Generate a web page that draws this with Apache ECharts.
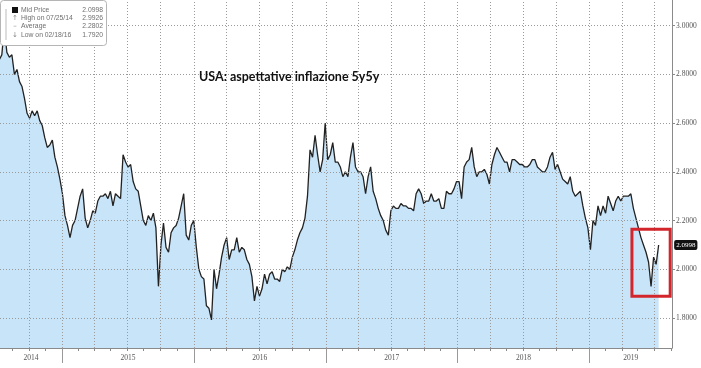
<!DOCTYPE html>
<html><head><meta charset="utf-8">
<script src="https://cdn.jsdelivr.net/npm/echarts@6/dist/echarts.min.js"></script>
<style>html,body{margin:0;padding:0;background:#fff}#c{width:701px;height:368px}</style>
</head><body><div id="c"></div>
<script>
// ---- data (weekly closes) ----
const startDate = [2014, 6, 11];          // first weekly observation (Fri 11 Jul 2014)
const values = [
 2.86,2.88,2.9926,2.89,2.87,2.88,2.80,2.82,2.77,2.75,
 2.70,2.64,2.62,2.65,2.63,2.65,2.61,2.59,2.54,2.50,
 2.51,2.53,2.46,2.42,2.37,2.31,2.22,2.18,2.13,2.18,
 2.20,2.25,2.30,2.33,2.21,2.17,2.20,2.24,2.23,2.28,
 2.30,2.30,2.31,2.29,2.32,2.26,2.31,2.30,2.29,2.47,
 2.44,2.42,2.43,2.36,2.33,2.32,2.26,2.20,2.18,2.22,
 2.20,2.23,2.17,1.93,2.10,2.19,2.09,2.07,2.15,2.17,
 2.18,2.21,2.26,2.31,2.14,2.12,2.18,2.20,2.09,2.00,
 1.97,1.96,1.85,1.84,1.792,2.00,1.92,1.98,2.05,2.10,
 2.13,2.04,2.08,2.08,2.13,2.07,2.09,2.08,2.04,2.02,
 1.97,1.87,1.93,1.89,1.92,1.98,1.94,1.98,1.99,1.96,
 1.96,1.95,2.00,1.99,2.01,2.00,2.05,2.08,2.12,2.15,
 2.17,2.21,2.30,2.49,2.46,2.55,2.47,2.40,2.45,2.60,
 2.45,2.47,2.52,2.44,2.44,2.42,2.38,2.40,2.38,2.46,
 2.52,2.42,2.40,2.40,2.38,2.31,2.38,2.42,2.32,2.29,
 2.25,2.22,2.20,2.16,2.14,2.24,2.26,2.25,2.25,2.27,
 2.26,2.26,2.25,2.25,2.24,2.31,2.33,2.31,2.27,2.28,
 2.28,2.31,2.28,2.28,2.29,2.25,2.25,2.32,2.31,2.31,
 2.33,2.36,2.36,2.29,2.42,2.44,2.45,2.50,2.42,2.38,
 2.40,2.40,2.41,2.39,2.35,2.43,2.47,2.50,2.48,2.46,
 2.44,2.44,2.40,2.45,2.45,2.44,2.43,2.43,2.42,2.42,
 2.43,2.45,2.45,2.42,2.41,2.40,2.40,2.42,2.46,2.48,
 2.41,2.43,2.40,2.37,2.36,2.35,2.38,2.32,2.30,2.31,
 2.32,2.26,2.21,2.17,2.08,2.20,2.18,2.26,2.22,2.26,
 2.23,2.30,2.27,2.24,2.28,2.30,2.28,2.30,2.30,2.30,
 2.31,2.25,2.21,2.17,2.13,2.10,2.07,2.03,1.93,2.05,
 2.02,2.0998
];
const yTicks = [1.8, 2.0, 2.2, 2.4, 2.6, 2.8, 3.0];
const years = [2014, 2015, 2016, 2017, 2018, 2019];
const legendNames = ['Mid Price', 'High on 07/25/14', 'Average', 'Low on 02/18/16'];
const legendValues = ['2.0998', '2.9926', '2.2802', '1.7920'];
const legendIcons = ['', '\u2191', '\u2013', '\u2193'];
const titleText = 'USA: aspettative inflazione 5y5y';
const axisStart = [2014, 6, 13], axisEnd = [2019, 7, 18];
const yMin = 1.677, yMax = 3.105;
const boxFrom = [2019, 3, 29], boxTo = [2019, 7, 13], boxHigh = 2.164, boxLow = 1.889;

// ---- build ----
const ts = a => new Date(a[0], a[1], a[2]).getTime();
const dates = values.map((v, i) => new Date(startDate[0], startDate[1], startDate[2] + 7 * i).getTime());
const seriesData = values.map((v, i) => [dates[i], v]);
const xMin = ts(axisStart), xMax = ts(axisEnd);
const quarterLines = [], minorTicks = [], yearStarts = [], yearMids = [];
years.forEach(y => {
  [0, 3, 6, 9].forEach(m => {
    const t = new Date(y, m, 1).getTime();
    if (t > xMin && t < xMax) { quarterLines.push(t); minorTicks.push(t); }
    const t2 = new Date(y, m + 1, 15).getTime();
    if (t2 > xMin && t2 < xMax) minorTicks.push(t2);
  });
  const s = new Date(y, 0, 1).getTime(), e = new Date(y + 1, 0, 1).getTime();
  if (s > xMin) yearStarts.push(s);
  yearMids.push((Math.max(s, xMin) + Math.min(e, xMax)) / 2);
});
const last = seriesData[seriesData.length - 1];

const Z = 100;
const legendChildren = [
  {type: 'rect', z: Z, shape: {x: 0.5, y: 0.5, width: 106, height: 45, r: 3},
   style: {fill: '#fff', stroke: '#b5b5b5', lineWidth: 1}},
  {type: 'line', z: Z + 1, shape: {x1: 6, y1: 9, x2: 6, y2: 40}, style: {stroke: '#bbb', lineWidth: 1}},
  {type: 'rect', z: Z + 1, shape: {x: 12, y: 7, width: 6, height: 6}, style: {fill: '#111'}}
];
legendNames.forEach((n, i) => {
  const yy = 10 + i * 8.3;
  legendChildren.push({type: 'text', z: Z + 1, style: {text: n, x: 21, y: yy, fill: '#6f6f6f', fontSize: 6.8,
    fontFamily: 'Liberation Sans', textVerticalAlign: 'middle', verticalAlign: 'middle'}});
  legendChildren.push({type: 'text', z: Z + 1, style: {text: legendValues[i], x: 103, y: yy, fill: '#6f6f6f', fontSize: 6.8,
    fontFamily: 'Liberation Sans', textAlign: 'right', align: 'right', textVerticalAlign: 'middle', verticalAlign: 'middle'}});
  if (legendIcons[i]) legendChildren.push({type: 'text', z: Z + 1, style: {text: legendIcons[i], x: 15, y: yy,
    fill: '#888', fontSize: 7, fontFamily: 'DejaVu Sans', textAlign: 'center', align: 'center',
    textVerticalAlign: 'middle', verticalAlign: 'middle'}});
});

const chart = echarts.init(document.getElementById('c'), null, {renderer: 'canvas'});
chart.setOption({
  animation: false,
  backgroundColor: '#fff',
  title: {text: titleText, left: 199, top: 70, padding: 0,
    textStyle: {fontFamily: 'Lato', fontWeight: 'bold', fontSize: 12.5, color: '#111'}},
  grid: {left: 0, right: 29, top: 0, bottom: 20},
  xAxis: [{
    type: 'value', min: xMin, max: xMax, scale: true,
    axisLine: {show: true, lineStyle: {color: '#8a8a8a', width: 1}},
    axisTick: {show: true, customValues: minorTicks, length: 3, lineStyle: {color: '#8a8a8a'}},
    axisLabel: {show: true, customValues: yearMids, formatter: v => String(new Date(v).getFullYear()),
      fontSize: 7.5, color: '#555', margin: 6, fontFamily: 'Liberation Serif'},
    splitLine: {show: false}
  }, {
    type: 'value', min: xMin, max: xMax, scale: true, position: 'bottom',
    axisLine: {show: false},
    axisTick: {show: true, customValues: yearStarts, length: 15, lineStyle: {color: '#999'}},
    axisLabel: {show: false},
    splitLine: {show: false}
  }],
  yAxis: {
    type: 'value', position: 'right', min: yMin, max: yMax,
    axisLine: {show: true, lineStyle: {color: '#8a8a8a', width: 1}},
    axisTick: {show: true, customValues: yTicks, length: 3, lineStyle: {color: '#8a8a8a'}},
    axisLabel: {show: true, customValues: yTicks, formatter: v => v.toFixed(4),
      fontSize: 7.5, color: '#555', margin: 4, fontFamily: 'Liberation Serif'},
    splitLine: {show: false}
  },
  graphic: [{type: 'group', left: 0, top: 0, z: Z, children: legendChildren}],
  series: [{
    type: 'line', data: seriesData, showSymbol: false, symbol: 'none',
    lineStyle: {color: '#222', width: 1.3},
    areaStyle: {color: '#c8e4f9', opacity: 1},
    markLine: {
      silent: true, symbol: 'none', label: {show: false},
      lineStyle: {type: [1, 2], color: '#9a9a9a', width: 1},
      data: quarterLines.map(t => ({xAxis: t})).concat(yTicks.map(v => ({yAxis: v})))
    },
    markPoint: {
      silent: true, symbol: 'rect', symbolSize: 1, itemStyle: {color: 'rgba(0,0,0,0)'},
      data: [{coord: last}],
      label: {show: true, position: 'right', distance: 15, formatter: () => last[1].toFixed(4),
        backgroundColor: '#111', color: '#fff', fontSize: 7, padding: [2, 2, 1, 2], borderRadius: 2,
        fontFamily: 'Liberation Serif'}
    }
  }, {
    type: 'line', data: [], z: 20, silent: true,
    markArea: {
      silent: true, z: 20,
      itemStyle: {color: 'rgba(0,0,0,0)', borderColor: '#d3262c', borderWidth: 3},
      data: [[{xAxis: ts(boxFrom), yAxis: boxHigh}, {xAxis: ts(boxTo), yAxis: boxLow}]]
    }
  }]
});
</script></body></html>
